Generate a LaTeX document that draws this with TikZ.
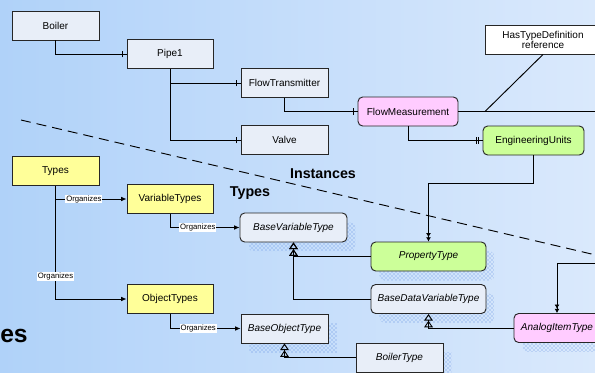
\documentclass[tikz,border=0pt]{standalone}
\usepackage{fontspec}
\setmainfont{Liberation Sans}
\usepackage{xcolor}
\usetikzlibrary{arrows.meta,shadows,patterns,decorations.markings}

\definecolor{bgleft}{RGB}{176,210,249}
\definecolor{bgright}{RGB}{218,233,252}
\definecolor{instfill}{RGB}{232,238,248}
\definecolor{yelfill}{RGB}{255,255,153}
\definecolor{pinkfill}{RGB}{255,204,255}
\definecolor{greenfill}{RGB}{204,255,153}
\definecolor{shadowc}{RGB}{95,140,225}

\begin{document}
\begin{tikzpicture}[x=0.75pt,y=-0.75pt,
    font=\fontsize{7.5}{9}\selectfont,
    box/.style={draw=black!85, line width=0.7pt, inner sep=1pt, minimum height=21.75pt},
    inst/.style={box, fill=instfill},
    yel/.style={box, fill=yelfill},
    rnd/.style={rounded corners=3.5pt},
    tbox/.style={box, fill=instfill, font=\fontsize{7.5}{9}\selectfont\itshape,
      general shadow={shadow xshift=6.5pt, shadow yshift=-7pt, pattern=crosshatch dots, pattern color=shadowc}},
    lbl/.style={fill=white, inner sep=0.6pt, font=\fontsize{5.8}{6}\selectfont},
    conn/.style={line width=0.7pt},
    onebar/.style={conn, postaction={decorate, decoration={markings,
      mark=at position -2.8pt with {\draw[line width=0.7pt] (0,-2.5pt) -- (0,2.5pt);}}}},
    twobar/.style={conn, postaction={decorate, decoration={markings,
      mark=at position -3pt with {\draw[line width=0.7pt] (0,-2.5pt) -- (0,2.5pt);},
      mark=at position -4.6pt with {\draw[line width=0.7pt] (0,-2.5pt) -- (0,2.5pt);}}}},
    org/.style={conn, -{Latex[length=4pt,width=3.5pt]}},
    dbl/.style={conn, -{Latex[length=3.2pt,width=3.8pt]Latex[length=3.2pt,width=3.8pt]}},
    gen/.style={conn, -{Triangle[open,length=5pt,width=6.5pt,line width=0.7pt]Triangle[open,length=5pt,width=6.5pt,line width=0.7pt]}},
    big/.style={font=\fontsize{10.7}{12}\selectfont\bfseries}
  ]
  % slide background
  \clip (0,0) rectangle (595,372);
  \shade[left color=bgleft, right color=bgright] (0,0) rectangle (595,372);

  % dashed split between instances and types
  \coordinate (splitA) at (21,120);
  \coordinate (splitB) at (600,256);
  \draw[conn, dash pattern=on 7.5pt off 4.5pt] (splitA) -- (splitB);

  \node[big] (instlbl) at (323,174) {Instances};
  \node[big] (typelbl) at (250,193) {Types};
  \node[font=\fontsize{18.5}{22}\selectfont\bfseries, anchor=base west, inner sep=0pt] (bigtypes) at (0,342) {es};

  % instances
  \node[inst, minimum width=65.25pt] (boiler) at (55.5,25.5) {Boiler};
  \node[inst, minimum width=64.5pt] (pipe) at (170,54) {Pipe1};
  \node[inst, minimum width=65.25pt] (ftrans) at (284.5,83) {FlowTransmitter};
  \node[inst, minimum width=65.25pt] (valve) at (284.5,140) {Valve};
  \node[box, rnd, fill=pinkfill, minimum width=75pt] (fmeas) at (408,111.5) {FlowMeasurement};
  \node[box, rnd, fill=greenfill, minimum width=75.75pt] (eng) at (533.5,140.5) {EngineeringUnits};
  \node[box, fill=white, align=center, minimum width=87pt] (htd) at (543,39.5) {HasTypeDefinition\\[-1.5pt]reference};

  \draw[onebar] (boiler.south) |- (pipe.west);
  \draw[onebar] (pipe.south) |- (ftrans.west);
  \draw[onebar] (pipe.south) |- (valve.west);
  \draw[onebar] (ftrans.south) |- (fmeas.west);
  \draw[twobar] (fmeas.south) |- (eng.west);
  \coordinate (rimA) at (600,111.5);
  \coordinate (hook) at (485,111.5);
  \draw[conn] (fmeas.east) -- (rimA);
  \draw[conn] (htd.south) -- (hook);

  % types
  \node[yel, minimum width=65.25pt] (types) at (55.5,171) {Types};
  \node[yel, minimum width=64.5pt] (vtypes) at (170,199) {VariableTypes};
  \node[yel, minimum width=64.5pt] (otypes) at (170,299) {ObjectTypes};
  \node[tbox, rnd, minimum width=80.25pt] (bvt) at (293.5,227.5) {BaseVariableType};
  \node[tbox, rnd, fill=greenfill, minimum width=86.25pt] (ptype) at (428.5,256.5) {PropertyType};
  \node[tbox, rnd, minimum width=86.25pt] (bdvt) at (428.5,299) {BaseDataVariableType};
  \node[tbox, minimum width=65.25pt] (bot) at (284.5,328.5) {BaseObjectType};
  \node[tbox, minimum width=65.25pt] (btype) at (399.5,357.5) {BoilerType};
  \node[tbox, rnd, fill=pinkfill, minimum width=64.5pt] (analog) at (557,328) {AnalogItemType};

  \draw[org] (types.south) |- (vtypes.west) node[lbl, pos=0.7] {Organizes};
  \draw[org] (types.south) |- (otypes.west) node[lbl, pos=0.4] {Organizes};
  \draw[org] (vtypes.south) |- (bvt.west) node[lbl, pos=0.7] {Organizes};
  \draw[org] (otypes.south) |- (bot.west) node[lbl, pos=0.7] {Organizes};

  \draw[gen] (ptype.west) -| (bvt.south);
  \draw[gen] (bdvt.west) -| (bvt.south);
  \draw[gen] (btype.west) -| (bot.south);
  \draw[gen] (analog.west) -| (bdvt.south);

  \draw[dbl] (eng.south) -- ++(0,28) -| (ptype.north);
  \coordinate (rimB) at (600,263);
  \draw[dbl] (rimB) -| (analog.north);
\end{tikzpicture}
\end{document}
